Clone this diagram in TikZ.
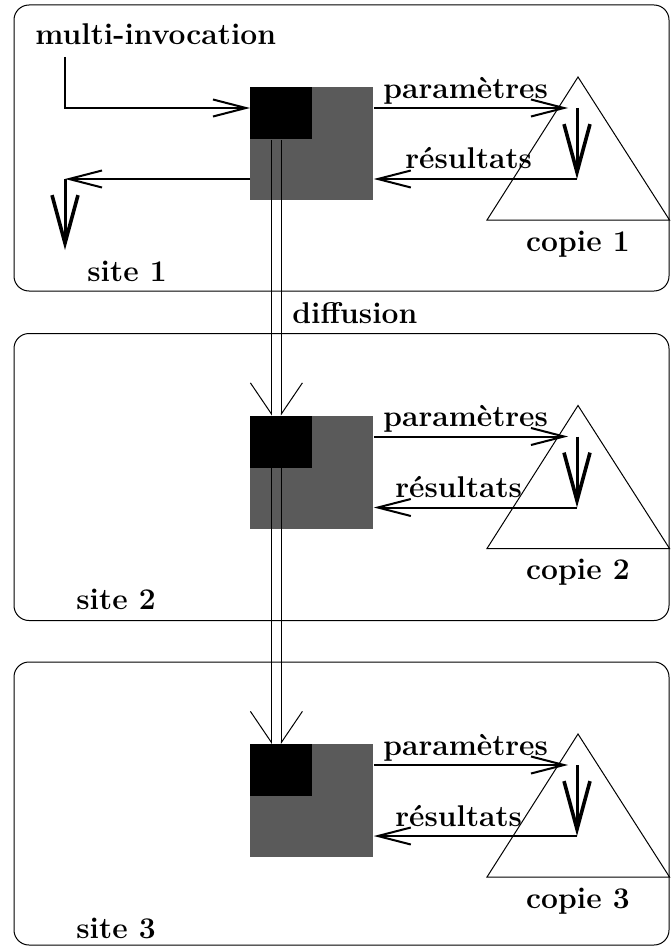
\documentclass[tikz,border=0pt]{standalone}
\usetikzlibrary{arrows.meta}
\definecolor{boxgrey}{RGB}{90,90,90}
\tikzset{
  sitebox/.style={draw, line width=0.5pt, rounded corners=7.5pt},
  lbl/.style={inner sep=0pt, anchor=base west, font=\fontsize{15}{18}\selectfont\bfseries},
  greybox/.style={fill=boxgrey, inner sep=0pt, minimum width=61.5pt, minimum height=56.5pt, anchor=north west},
  blackbox/.style={fill=black, inner sep=0pt, minimum width=31pt, minimum height=26pt, anchor=north west},
  flow/.style={line width=1pt, -{Straight Barb[length=16.5pt, width=8.5pt, line width=1pt]}},
  bigflow/.style={line width=1.5pt, -{Straight Barb[length=24pt, width=13pt, line width=1.8pt]}},
  diffl/.style={line width=0.5pt, -{Straight Barb[harpoon, swap, length=15.5pt, width=21pt, line width=0.5pt]}},
  diffr/.style={line width=0.5pt, -{Straight Barb[harpoon, length=15.5pt, width=21pt, line width=0.5pt]}},
  tri/.style={draw, line width=0.5pt},
}
\begin{document}
\begin{tikzpicture}[x=0.5pt, y=-0.5pt]
\useasboundingbox (0,0) rectangle (670,947);
\foreach \i/\dy/\sh/\rx/\sx in {1/0/286/405/87, 2/328.5/287/395/76, 3/657/283/395/76}
{
  \draw[sitebox] (14,{5+\dy}) rectangle (669,{5+\dy+\sh});
  \node[greybox] (g\i) at (250,{87+\dy}) {};
  \node[blackbox] (b\i) at (g\i.north west) {};
  \draw[tri] (578,{77+\dy}) -- (669.5,{220+\dy}) -- (487,{220+\dy}) -- cycle;
  \coordinate (in\i) at (568,{108+\dy});
  \coordinate (top\i) at (577,{108+\dy});
  \coordinate (bot\i) at (577,{179+\dy});
  \draw[flow] (g\i.east |- in\i) -- (in\i);
  \draw[bigflow] (top\i) -- (bot\i);
  \draw[flow] (bot\i) -- (g\i.east |- bot\i);
  \node[lbl] (par\i) at (383,{98+\dy}) {paramètres};
  \node[lbl] (res\i) at (\rx,{169+\dy}) {résultats};
  \node[lbl, anchor=base] (cop\i) at (578,{251+\dy}) {copie \i};
  \node[lbl] (site\i) at (\sx,{281+\dy}) {site \i};
}

\node[lbl] (multi) at (35,45) {multi-invocation};
\coordinate (mi) at (65,57);
\coordinate (out) at (65,179);
\coordinate (outend) at (65,250);
\draw[flow] (mi) |- (g1.west |- in1);
\draw[flow] (g1.west |- bot1) -- (out);
\draw[bigflow] (out) -- (outend);

\foreach \a/\b in {1/2,2/3}
{
  \draw[diffl] ([xshift=-5pt]b\a.south) -- ([xshift=-5pt]b\a.south |- g\b.north);
  \draw[diffr] (b\a.south) -- (b\a.south |- g\b.north);
}
\node[lbl] (diff) at (292,323) {diffusion};
\end{tikzpicture}
\end{document}
